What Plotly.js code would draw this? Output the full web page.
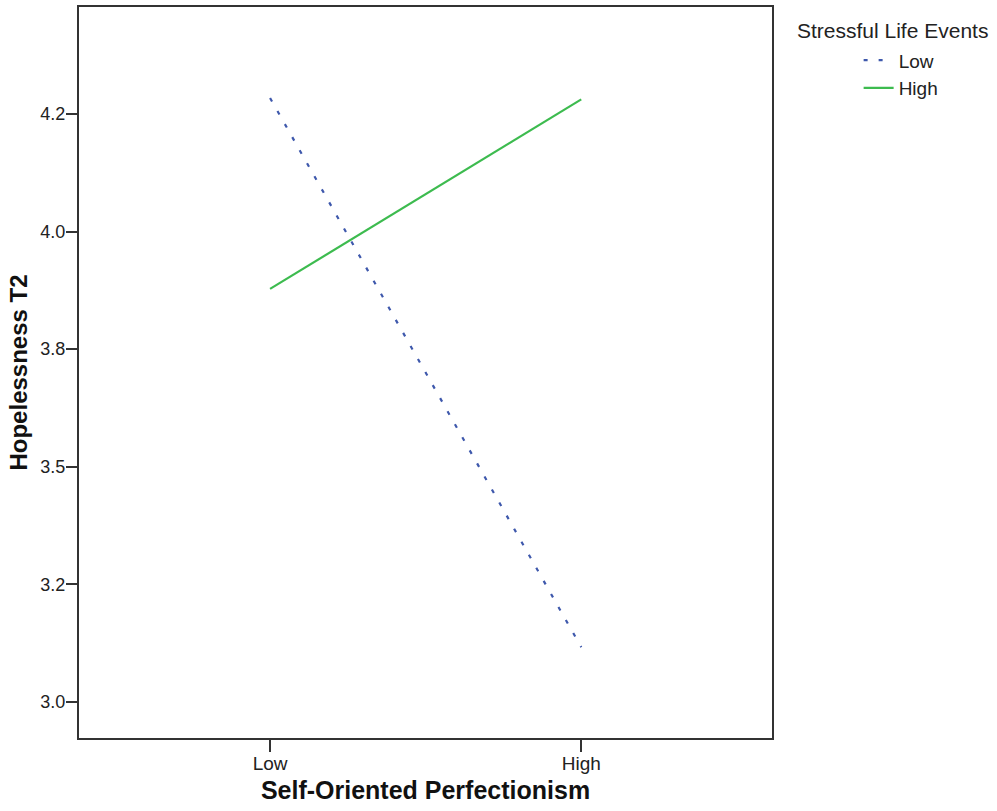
<!DOCTYPE html>
<html>
<head>
<meta charset="utf-8">
<script src="https://cdn.plot.ly/plotly-3.0.1.min.js"></script>
<style>html,body{margin:0;padding:0;background:#fff;}#chart{width:997px;height:811px;}</style>
</head>
<body>
<div id="chart"></div>
<script>
// Data
var categories = ["Low", "High"];
var xPositions = [0, 1];
var lowSLE = [4.284, 3.116];
var highSLE = [3.878, 4.281];
var seriesNames = ["Low", "High"];
var yTickVals = [3.0, 3.25, 3.5, 3.75, 4.0, 4.25];
var yTickText = ["3.0", "3.2", "3.5", "3.8", "4.0", "4.2"];

var FONT = "Liberation Sans, Arial, sans-serif";

var traces = [
  {
    x: xPositions, y: lowSLE, name: seriesNames[0], mode: "lines", type: "scatter",
    line: {color: "#3e58ac", width: 2.2, dash: "4px,11px"}
  },
  {
    x: xPositions, y: highSLE, name: seriesNames[1], mode: "lines", type: "scatter",
    line: {color: "#3dbb4f", width: 2.2}
  }
];

var layout = {
  width: 997, height: 811,
  margin: {l: 79, r: 225, t: 7, b: 73, pad: 0},
  paper_bgcolor: "#fff", plot_bgcolor: "#fff",
  font: {family: FONT, color: "#222"},
  showlegend: true,
  legend: {
    x: 1.125, xanchor: "left", y: 0.953, yanchor: "top",
    font: {family: FONT, size: 19, color: "#222"},
    bgcolor: "rgba(0,0,0,0)", borderwidth: 0, tracegroupgap: 0
  },
  xaxis: {
    range: [-0.614, 1.613],
    tickvals: xPositions, ticktext: categories,
    ticks: "outside", ticklen: 12, tickwidth: 2, tickcolor: "#333",
    ticklabelstandoff: -5,
    showline: true, linecolor: "#333", linewidth: 2, mirror: true,
    showgrid: false, zeroline: false,
    tickfont: {family: FONT, size: 19, color: "#222"},
    title: {text: "Self-Oriented Perfectionism", font: {family: FONT, size: 25, color: "#111", weight: "bold"}, standoff: 9}
  },
  yaxis: {
    range: [2.923, 4.4775],
    tickvals: yTickVals, ticktext: yTickText,
    ticks: "outside", ticklen: 11, tickwidth: 2, tickcolor: "#333",
    ticklabelstandoff: -3,
    showline: true, linecolor: "#333", linewidth: 2, mirror: true,
    showgrid: false, zeroline: false,
    tickfont: {family: FONT, size: 18, color: "#222"},
    title: {text: "Hopelessness T2", font: {family: FONT, size: 24, color: "#111", weight: "bold"}, standoff: 6}
  },
  annotations: [
    {
      xref: "paper", yref: "paper", x: 1.0338, y: 0.9685, xanchor: "left", yanchor: "middle",
      text: "Stressful Life Events", showarrow: false,
      font: {family: FONT, size: 21, color: "#222"}
    }
  ]
};

Plotly.newPlot("chart", traces, layout, {displayModeBar: false, staticPlot: true});
</script>
</body>
</html>
